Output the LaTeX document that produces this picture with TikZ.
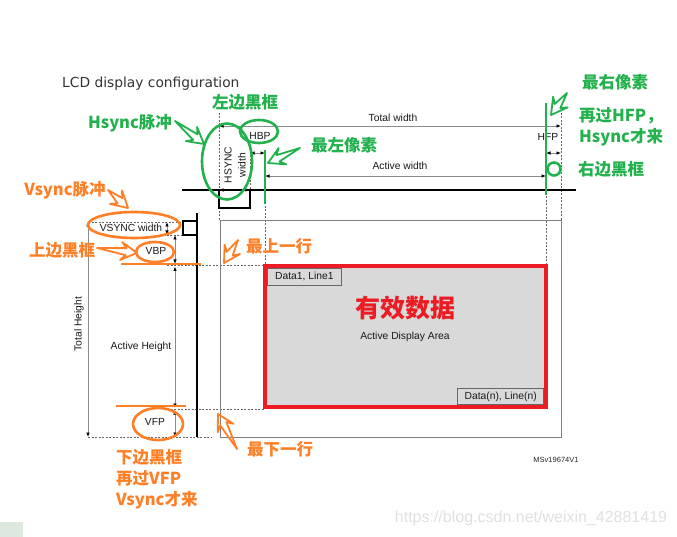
\documentclass[tikz,border=0pt]{standalone}
\usepackage{fontspec}
\setmainfont{Liberation Sans}
\newfontfamily\titlefont{DejaVu Sans}
\newfontfamily\cjk{Noto Sans CJK SC}
\usetikzlibrary{calc,arrows.meta}
\definecolor{anngreen}{HTML}{22B14C}
\definecolor{annorange}{HTML}{FF7F27}
\definecolor{annred}{HTML}{ED1C24}
\definecolor{dimgray}{HTML}{8C8C8C}
\definecolor{areagray}{HTML}{D9D9D9}
\definecolor{patch}{HTML}{DDE8DF}
\newcommand{\hollowarrow}[3]{%
  \draw[#1] (#2) -- ($(#3)!11pt!(#2)!3.5pt!90:(#2)$) -- ($(#3)!16pt!(#2)!9pt!90:(#2)$) -- (#3)
    -- ($(#3)!16pt!(#2)!9pt!-90:(#2)$) -- ($(#3)!11pt!(#2)!3.5pt!-90:(#2)$) -- cycle;}
\tikzset{
  lbl/.style={font=\fontsize{10.3}{12}\selectfont, inner sep=0pt, text=black!90},
  dimline/.style={draw=dimgray, line width=0.8pt,
    {Latex[length=4.5pt,width=3.6pt,color=black]}-{Latex[length=4.5pt,width=3.6pt,color=black]}},
  guide/.style={draw=black!60, line width=0.6pt, dash pattern=on 2pt off 1.5pt},
  sig/.style={draw=black, line width=1.5pt},
  framebox/.style={draw=black!50, line width=0.8pt},
  gmark/.style={draw=anngreen, line width=2.6pt},
  omark/.style={draw=annorange, line width=2.6pt},
  garrow/.style={draw=anngreen, line width=1.8pt, line join=round},
  oarrow/.style={draw=annorange, line width=1.8pt, line join=round},
  gtext/.style={text=anngreen, font=\cjk\bfseries\fontsize{16.5}{21}\selectfont, inner sep=0pt},
  otext/.style={text=annorange, font=\cjk\bfseries\fontsize{16.5}{21}\selectfont, inner sep=0pt},
}
\begin{document}
\begin{tikzpicture}[x=1pt,y=-1pt]
\useasboundingbox[fill=white] (0,0) rectangle (677,537);
\fill[patch] (0,522) rectangle (23,537);

% title
\node[anchor=west, inner sep=0pt, text=black!80, font=\titlefont\fontsize{13.8}{16}\selectfont] (title) at (62,84) {LCD display configuration};

% guides
\coordinate (g1a) at (219,113); \coordinate (g1b) at (219,220);
\coordinate (g2a) at (250,145); \coordinate (g2b) at (250,190);
\coordinate (g3a) at (265,150); \coordinate (g3b) at (265,265);
\coordinate (g4a) at (546,130); \coordinate (g4b) at (546,265);
\coordinate (g5a) at (561,113); \coordinate (g5b) at (561,220);
\coordinate (h1a) at (88,222);  \coordinate (h1b) at (183,222);
\coordinate (h2a) at (163,235); \coordinate (h2b) at (183,235);
\coordinate (h3a) at (167,265.5); \coordinate (h3b) at (265,265.5);
\coordinate (h4a) at (167,409); \coordinate (h4b) at (265,409);
\coordinate (h5a) at (88,437);  \coordinate (h5b) at (212,437);
\foreach \a/\b in {g1a/g1b,g2a/g2b,g3a/g3b,g4a/g4b,g5a/g5b,h1a/h1b,h2a/h2b,h3a/h3b,h4a/h4b,h5a/h5b}
  \draw[guide] (\a) -- (\b);

% frame
\draw[framebox] (220,220) rectangle (561,437);

% sync signals
\coordinate (hs0) at (182,190); \coordinate (hs1) at (576,190);
\draw[sig] (hs0) -- (hs1);
\draw[sig, line width=1.2pt] (219,190) -- (219,208) -- (250,208) -- (250,190);
\coordinate (vs0) at (197,213); \coordinate (vs1) at (197,437);
\draw[sig] (vs0) -- (vs1);
\draw[sig, line width=1.2pt] (197,221) -- (183,221) -- (183,235) -- (197,235);

% dimension lines
\coordinate (tw0) at (219,126); \coordinate (tw1) at (561,126);
\draw[dimline] (tw0) -- (tw1);
\coordinate (hw0) at (219,190); \coordinate (hw1) at (250,190);
\draw[dimline, draw=black] (hw0) -- (hw1);
\coordinate (hb0) at (250,153); \coordinate (hb1) at (265,153);
\draw[dimline] (hb0) -- (hb1);
\coordinate (aw0) at (265,176); \coordinate (aw1) at (546,176);
\draw[dimline] (aw0) -- (aw1);
\coordinate (hf0) at (546,153); \coordinate (hf1) at (561,153);
\draw[dimline] (hf0) -- (hf1);
\coordinate (th0) at (88,222); \coordinate (th1) at (88,437);
\draw[dimline] (th0) -- (th1);
\coordinate (vw0) at (167,222); \coordinate (vw1) at (167,235);
\draw[dimline] (vw0) -- (vw1);
\coordinate (vb0) at (175,235); \coordinate (vb1) at (175,264);
\draw[dimline] (vb0) -- (vb1);
\coordinate (ah0) at (175,266.5); \coordinate (ah1) at (175,408);
\draw[dimline] (ah0) -- (ah1);
\coordinate (vf0) at (175,410); \coordinate (vf1) at (175,437);
\draw[dimline] (vf0) -- (vf1);

% active area
\draw[fill=areagray, draw=annred, line width=4pt] (265,266) rectangle (546,407);
\node[lbl, draw=black!60, line width=0.7pt, fill=areagray, minimum width=74pt, minimum height=17pt, anchor=north west] (d1) at (267,268) {Data1, Line1};
\node[lbl, draw=black!60, line width=0.7pt, fill=areagray, minimum width=86pt, minimum height=16pt, anchor=south east] (dn) at (544,405) {Data(n), Line(n)};
\node[text=annred, font=\cjk\bfseries\fontsize{25}{28}\selectfont, inner sep=0pt] (yxsj) at (405,308) {有效数据};
\node[lbl] (ada) at (405,337) {Active Display Area};

% labels
\node[lbl] (ltw) at (393,118) {Total width};
\node[lbl] (law) at (400,166) {Active width};
\node[lbl] (lhbp) at (260,136) {HBP};
\node[lbl] (lhfp) at (548,137) {HFP};
\node[lbl, rotate=90, align=center, font=\fontsize{10.3}{14}\selectfont] (lhw) at (235,165) {HSYNC\\width};
\node[lbl] (lvw) at (131,228) {VSYNC width};
\node[lbl] (lvbp) at (156,251) {VBP};
\node[lbl] (lah) at (141,347) {Active Height};
\node[lbl] (lvfp) at (155,422) {VFP};
\node[lbl, rotate=90] (lth) at (79,324) {Total Height};
\node[inner sep=0pt, text=black!85, font=\fontsize{7.5}{9}\selectfont] (ms) at (556,460) {MSv19674V1};
\node[inner sep=0pt, text=black!12, font=\fontsize{16}{18}\selectfont] (wm) at (531,518) {https://blog.csdn.net/weixin\_42881419};

% green annotations
\draw[gmark] (227,161.5) ellipse [x radius=25, y radius=38];
\draw[gmark] (259,131.5) ellipse [x radius=19, y radius=11.5];
\draw[gmark] (554,169) circle [radius=6.5];
\coordinate (gl0) at (265,150); \coordinate (gl1) at (265,204);
\draw[gmark] (gl0) -- (gl1);
\coordinate (gr0) at (546,103); \coordinate (gr1) at (546,195);
\draw[gmark] (gr0) -- (gr1);
\node[gtext] (zbhk) at (245,102) {左边黑框};
\node[gtext] (hsmc) at (130,123) {Hsync脉冲};
\node[gtext] (zzxs) at (344,145) {最左像素};
\node[gtext] (zyxs) at (615,82) {最右像素};
\node[gtext, anchor=west, align=left] (zghfp) at (579,126.5) {再过HFP，\\Hsync才来};
\node[gtext] (ybhk) at (611,169) {右边黑框};
\coordinate (a1t) at (175,121); \coordinate (a1h) at (204,144);
\coordinate (a2t) at (300,148); \coordinate (a2h) at (268,163);
\coordinate (a3t) at (567,93);  \coordinate (a3h) at (551,115);
\hollowarrow{garrow}{a1t}{a1h}
\hollowarrow{garrow}{a2t}{a2h}
\hollowarrow{garrow}{a3t}{a3h}

% orange annotations
\draw[omark] (134,225) ellipse [x radius=46, y radius=13];
\draw[omark] (155,252) ellipse [x radius=19, y radius=10];
\draw[omark] (158,424) ellipse [x radius=25, y radius=16];
\coordinate (ot0) at (121,264); \coordinate (ot1) at (201,264);
\draw[omark] (ot0) -- (ot1);
\coordinate (ob0) at (116,406); \coordinate (ob1) at (186,406);
\draw[omark] (ob0) -- (ob1);
\node[otext] (vsmc) at (65,190) {Vsync脉冲};
\node[otext] (sbhk) at (62,250) {上边黑框};
\node[otext] (zsyh) at (279,246) {最上一行};
\node[otext] (zxyh) at (280,449) {最下一行};
\node[otext, anchor=west, align=left] (xbhk) at (116,479) {下边黑框\\再过VFP\\Vsync才来};
\coordinate (b1t) at (108,190); \coordinate (b1h) at (128,208);
\coordinate (b2t) at (97,248);  \coordinate (b2h) at (137,253);
\coordinate (b3t) at (238,240); \coordinate (b3h) at (224,263);
\coordinate (b4t) at (237,449); \coordinate (b4h) at (218,414);
\hollowarrow{oarrow}{b1t}{b1h}
\hollowarrow{oarrow}{b2t}{b2h}
\hollowarrow{oarrow}{b3t}{b3h}
\hollowarrow{oarrow}{b4t}{b4h}
\end{tikzpicture}
\end{document}
